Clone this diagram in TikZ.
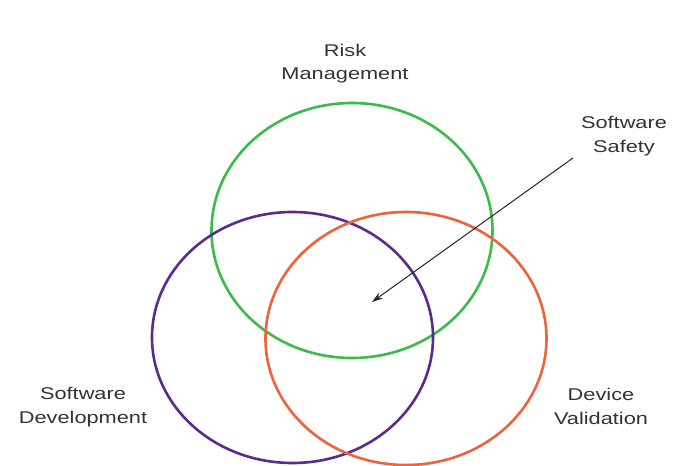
\documentclass[tikz,border=0pt]{standalone}
\usepackage{fontspec}
\setmainfont{Liberation Sans}
\newfontfamily\labfont[FakeStretch=1.28]{Liberation Sans}
\usetikzlibrary{shapes.geometric,arrows.meta}
\definecolor{rmgreen}{HTML}{3DBB48}
\definecolor{sdpurple}{HTML}{5B2A8E}
\definecolor{dvorange}{HTML}{F0623E}
\definecolor{labgray}{HTML}{333333}
\begin{document}
\begin{tikzpicture}[x=1pt,y=-1pt,
  ring/.style={draw,ellipse,line width=2.6pt,inner sep=0pt,minimum width=281pt},
  lab/.style={align=center,inner sep=0pt,text=labgray,font=\labfont\fontsize{17}{23.5}\selectfont},
  pointer/.style={-{Stealth[length=11pt,width=7pt]},line width=1pt,draw=black!85}]
\useasboundingbox[fill=white] (0,0) rectangle (697,466);
\node[ring,draw=rmgreen,minimum height=255pt] (rm) at (352,230.5) {};
\node[ring,draw=sdpurple,minimum height=251pt] (sd) at (292.5,337.5) {};
\node[ring,draw=dvorange,minimum height=253pt] (dv) at (406,338.5) {};
\node[lab] (rmlab) at (345,63.5) {Risk\\Management};
\node[lab] (sslab) at (624,136) {Software\\Safety};
\node[lab] (sdlab) at (83,407) {Software\\Development};
\node[lab] (dvlab) at (601,406.5) {Device\\Validation};
\coordinate (ssstart) at (573,158);
\coordinate (sscore) at (372,302);
\draw[pointer] (ssstart) -- (sscore);
\end{tikzpicture}
\end{document}
